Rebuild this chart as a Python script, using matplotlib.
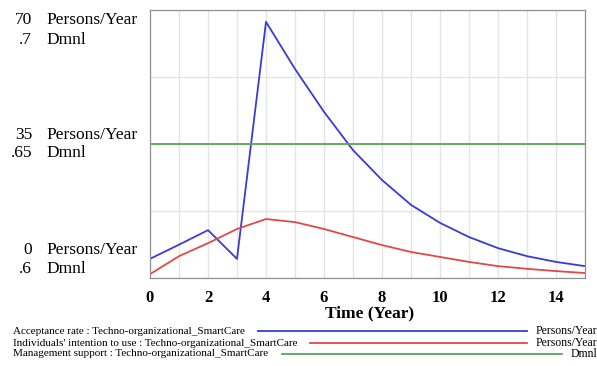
import matplotlib.pyplot as plt
from matplotlib.ticker import MultipleLocator

# --------------------
# Data
# --------------------
years = list(range(0, 16))
acceptance_rate = [5.0, 8.7, 12.5, 5.0, 66.9, 54.6, 43.4, 33.4, 25.6, 19.1,
                   14.4, 10.7, 7.8, 5.7, 4.2, 3.1]
intention_to_use = [1.0, 5.7, 9.1, 12.8, 15.4, 14.6, 12.8, 10.7, 8.6, 6.8,
                    5.5, 4.2, 3.1, 2.4, 1.8, 1.3]
management_support = [0.65] * len(years)

left_labels = [("70", "Persons/Year", ".7", "Dmnl"),
               ("35", "Persons/Year", ".65", "Dmnl"),
               ("0", "Persons/Year", ".6", "Dmnl")]
legend_rows = [("Acceptance rate : Techno-organizational_SmartCare", "Persons/Year"),
               ("Individuals' intention to use : Techno-organizational_SmartCare", "Persons/Year"),
               ("Management support : Techno-organizational_SmartCare", "Dmnl")]

BLUE = "#3a3ad8"
RED = "#e04848"
GREEN = "#5aa55a"

plt.rcParams["font.family"] = ["Liberation Serif", "DejaVu Serif"]

W, H = 597, 366
fig = plt.figure(figsize=(W / 100, H / 100), dpi=100)

def fx(px):
    return px / W

def fy(py):
    return 1 - py / H

# plot area in pixels
x0, x1, y0, y1 = 150, 585, 10, 278
ax = fig.add_axes([fx(x0), fy(y1), fx(x1 - x0), (y1 - y0) / H])
ax.set_xlim(0, 15)
ax.set_ylim(0, 70)
ax.xaxis.set_major_locator(MultipleLocator(2))
ax.xaxis.set_minor_locator(MultipleLocator(1))
ax.yaxis.set_major_locator(MultipleLocator(17.5))
ax.grid(True, which="both", axis="x", color="#e4e4e4", lw=1)
ax.grid(True, which="major", axis="y", color="#e4e4e4", lw=1)
ax.set_axisbelow(True)
ax.tick_params(axis="both", which="both", length=0)
ax.set_yticklabels([])
ax.tick_params(axis="x", labelsize=12, pad=9)
for lbl in ax.get_xticklabels():
    lbl.set_fontweight("bold")

ax.plot(years, acceptance_rate, color=BLUE, lw=1.3)
ax.plot(years, intention_to_use, color=RED, lw=1.3)

ax2 = ax.twinx()
ax2.set_ylim(0.6, 0.7)
ax2.set_yticks([])
ax2.plot(years, management_support, color=GREEN, lw=1.3)
for a in (ax, ax2):
    for s in a.spines.values():
        s.set_color("#909090")

fig.text(fx(370), fy(313), "Time (Year)", ha="center", va="center",
         fontsize=12.5, fontweight="bold")

# left side scale labels
row_y = [(20, 40), (135, 153), (250, 269)]
for (n1, u1, n2, u2), (ya, yb) in zip(left_labels, row_y):
    fig.text(fx(32), fy(ya), n1, ha="right", va="center", fontsize=12.5)
    fig.text(fx(46), fy(ya), u1, ha="left", va="center", fontsize=12.5)
    fig.text(fx(32), fy(yb), n2, ha="right", va="center", fontsize=12.5)
    fig.text(fx(46), fy(yb), u2, ha="left", va="center", fontsize=12.5)

# legend rows
leg_y = [331, 343, 354]
line_spans = [(258, 527), (310, 527), (282, 562)]
colors = [BLUE, RED, GREEN]
for (name, unit), yy, (la, lb), c in zip(legend_rows, leg_y, line_spans, colors):
    fig.text(fx(13), fy(yy), name, ha="left", va="center", fontsize=8.0)
    fig.text(fx(597), fy(yy), unit, ha="right", va="center", fontsize=8.5)
    fig.add_artist(plt.Line2D([fx(la), fx(lb)], [fy(yy), fy(yy)], color=c, lw=1.3))

fig.savefig("out.png", dpi=100)
